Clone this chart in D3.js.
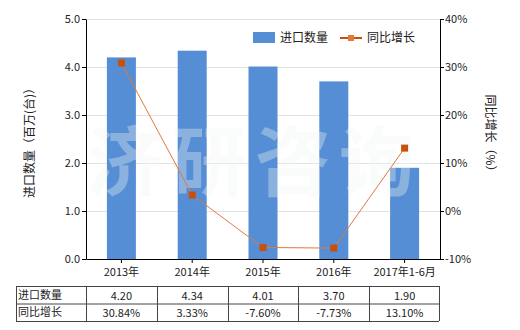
<!DOCTYPE html>
<html><head><meta charset="utf-8">
<script src="https://cdn.jsdelivr.net/npm/d3@7"></script>
<style>body{margin:0;background:#fff}svg{display:block;font-family:"Noto Sans CJK SC","Noto Sans",sans-serif}</style>
</head><body><svg id="c" width="520" height="330"></svg>
<script>
const categories = ["2013年","2014年","2015年","2016年","2017年1-6月"];
const importQty = [4.20, 4.34, 4.01, 3.70, 1.90];
const yoyGrowth = [30.84, 3.33, -7.60, -7.73, 13.10];
const leftTicks = [0,1,2,3,4,5];
const rightTicks = [-10,0,10,20,30,40];
const seriesNames = ["进口数量","同比增长"];

const svg = d3.select("#c");
const L=86, R=440, T=19, B=259;
const x = d3.scaleBand().domain(categories).range([L,R]);
const yL = d3.scaleLinear().domain([0,5]).range([B,T]);
const yR = d3.scaleLinear().domain([-10,40]).range([B,T]);
const blue="#558ed5", orange="#c8500a";

// grid
svg.append("g").selectAll("line").data(leftTicks.slice(1)).join("line")
  .attr("x1",L).attr("x2",R).attr("y1",d=>yL(d)+0.5).attr("y2",d=>yL(d)+0.5)
  .attr("stroke","#e3e3e3").attr("stroke-width",1);

// bars
const bw = 29;
svg.append("g").selectAll("rect").data(importQty).join("rect")
  .attr("x",(d,i)=>x(categories[i])+x.bandwidth()/2-bw/2).attr("width",bw)
  .attr("y",d=>yL(d)).attr("height",d=>B-yL(d)).attr("fill",blue);

// watermark
svg.append("text").attr("x",255).attr("y",190).attr("text-anchor","middle")
  .attr("font-size",76).attr("font-weight","bold").attr("letter-spacing",8)
  .attr("fill","#f2f6f4").attr("fill-opacity",0.35).text("济研咨询");

// line
const cx = (i)=>x(categories[i])+x.bandwidth()/2;
svg.append("path").datum(yoyGrowth)
  .attr("d",d3.line().x((d,i)=>cx(i)).y(d=>yR(d)))
  .attr("fill","none").attr("stroke","#e0793a").attr("stroke-width",1);
svg.append("g").selectAll("rect").data(yoyGrowth).join("rect")
  .attr("x",(d,i)=>cx(i)-3.5).attr("y",d=>yR(d)-3.5).attr("width",7).attr("height",7)
  .attr("fill",orange);

// axes
const fs = 11;
const gl = svg.append("g").attr("transform",`translate(${L},0)`)
  .call(d3.axisLeft(yL).tickValues(leftTicks).tickFormat(d3.format(".1f")).tickSize(4).tickSizeOuter(0));
const gr = svg.append("g").attr("transform",`translate(${R},0)`)
  .call(d3.axisRight(yR).tickValues(rightTicks).tickFormat(d=>d+"%").tickSize(4).tickSizeOuter(0));
const gb = svg.append("g").attr("transform",`translate(0,${B})`)
  .call(d3.axisBottom(x).tickSize(4).tickSizeOuter(0));
[gl,gr,gb].forEach(g=>{
  g.selectAll(".domain,.tick line").attr("stroke","#000");
  g.selectAll("text").attr("font-size",fs).attr("fill","#222").attr("font-family","'Noto Sans CJK SC',sans-serif");
});
gl.selectAll("text").attr("x",-6);
gr.selectAll("text").attr("x",5);
gb.selectAll("text").attr("y",9);

// axis titles
svg.append("text").attr("transform","translate(34,140) rotate(-90)").attr("text-anchor","middle")
  .attr("font-size",12).attr("fill","#222").text("进口数量（百万(台)）");
svg.append("text").attr("transform","translate(486,136) rotate(90)").attr("text-anchor","middle")
  .attr("font-size",12).attr("fill","#222").text("同比增长（%）");

// legend
svg.append("rect").attr("x",253).attr("y",32).attr("width",22).attr("height",11).attr("fill",blue);
svg.append("text").attr("x",280).attr("y",42).attr("font-size",12).attr("fill","#222").text(seriesNames[0]);
svg.append("line").attr("x1",340).attr("x2",362).attr("y1",38).attr("y2",38).attr("stroke",orange).attr("stroke-width",2);
svg.append("rect").attr("x",348).attr("y",35).attr("width",6).attr("height",6).attr("fill","#e0793a");
svg.append("text").attr("x",367).attr("y",42).attr("font-size",12).attr("fill","#222").text(seriesNames[1]);

// data table
const tT=286, rowH=17.5, tL=16;
const tbl = svg.append("g");
const cols = [tL].concat(categories.map(c=>x(c))).concat([R-1]);
const rows = [tT, tT+rowH, tT+2*rowH];
tbl.selectAll("line.h").data(rows).join("line").attr("x1",tL).attr("x2",R-1)
  .attr("y1",d=>d+0.5).attr("y2",d=>d+0.5).attr("stroke","#444");
tbl.selectAll("line.v").data(cols).join("line").attr("x1",d=>Math.round(d)+0.5).attr("x2",d=>Math.round(d)+0.5)
  .attr("y1",tT).attr("y2",tT+2*rowH).attr("stroke","#444");
const tableRows = [
  {name:seriesNames[0], vals:importQty.map(v=>v.toFixed(2))},
  {name:seriesNames[1], vals:yoyGrowth.map(v=>v.toFixed(2)+"%")}
];
tableRows.forEach((r,ri)=>{
  const yy = tT+ri*rowH+rowH/2+4;
  tbl.append("text").attr("x",tL+2).attr("y",yy).attr("font-size",11).attr("fill","#222").text(r.name);
  r.vals.forEach((v,i)=>{
    tbl.append("text").attr("x",cx(i)).attr("y",yy+1).attr("text-anchor","middle")
      .attr("font-size",11).attr("fill","#222").text(v);
  });
});
</script></body></html>
